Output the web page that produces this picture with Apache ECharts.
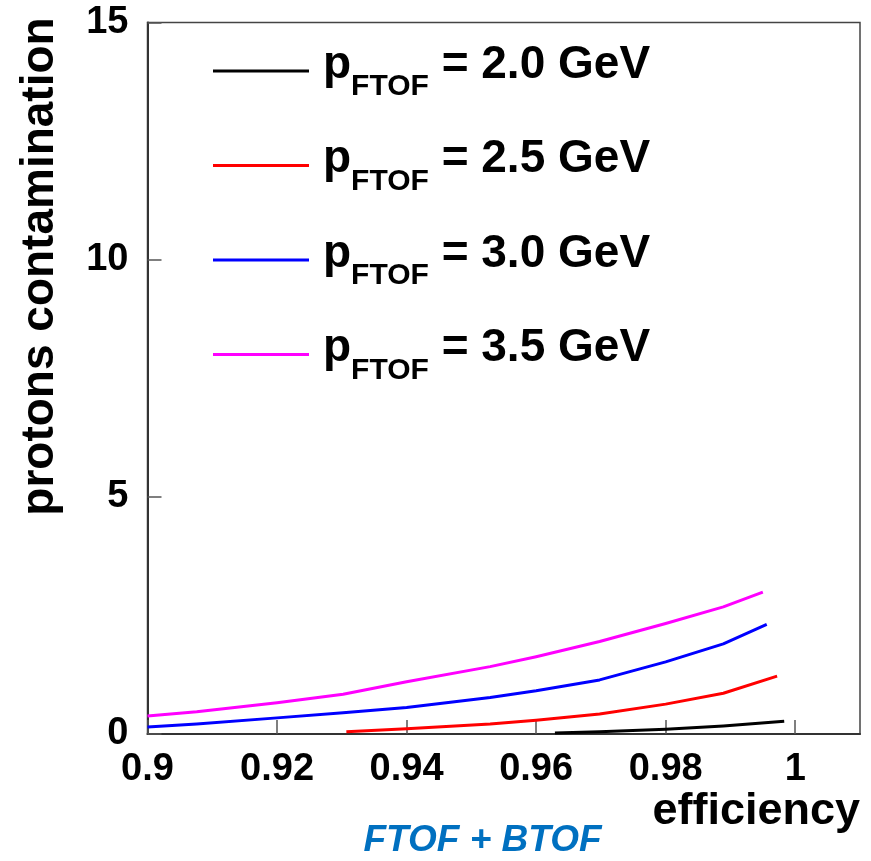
<!DOCTYPE html>
<html>
<head>
<meta charset="utf-8">
<script src="https://cdn.jsdelivr.net/npm/echarts@6/dist/echarts.min.js"></script>
<style>
  html, body { margin: 0; padding: 0; background: #fff; }
  #chart { width: 871px; height: 861px; }
</style>
</head>
<body>
<div id="chart"></div>
<script>
// Proton contamination versus pion efficiency for several FTOF momenta
const momenta = ['2.0', '2.5', '3.0', '3.5'];
const colors = ['#000000', '#ff0000', '#0000ff', '#ff00ff'];

const eff20 = [0.9629, 0.9698, 0.98, 0.9889, 0.9983];
const cont20 = [0.02, 0.05, 0.10, 0.17, 0.27];

const eff25 = [0.9307, 0.94, 0.9529, 0.96, 0.9698, 0.98, 0.9889, 0.9972];
const cont25 = [0.05, 0.11, 0.21, 0.29, 0.42, 0.63, 0.86, 1.22];

const eff30 = [0.9, 0.9076, 0.92, 0.9302, 0.94, 0.9529, 0.96, 0.9698, 0.98, 0.9889, 0.9956];
const cont30 = [0.15, 0.21, 0.34, 0.45, 0.56, 0.77, 0.91, 1.14, 1.52, 1.90, 2.31];

const eff35 = [0.9, 0.9076, 0.92, 0.9302, 0.94, 0.9529, 0.96, 0.9698, 0.98, 0.9889, 0.995];
const cont35 = [0.38, 0.47, 0.66, 0.84, 1.10, 1.42, 1.63, 1.95, 2.33, 2.68, 2.99];

const xTicks = { min: 0.9, max: 1.01, step: 0.02 };
const yTicks = { min: 0, max: 15, step: 5 };

const effs = [eff20, eff25, eff30, eff35];
const conts = [cont20, cont25, cont30, cont35];

const FONT = '"Liberation Sans", Arial, Helvetica, sans-serif';

const series = momenta.map((p, i) => ({
  name: p + ' GeV',
  type: 'line',
  data: effs[i].map((x, k) => [x, conts[i][k]]),
  showSymbol: false,
  smooth: false,
  lineStyle: { color: colors[i], width: 3, join: 'round', cap: 'butt' },
  itemStyle: { color: colors[i] },
  z: 3
}));

const chart = echarts.init(document.getElementById('chart'), null, { renderer: 'canvas' });

chart.setOption({
  animation: false,
  backgroundColor: '#ffffff',
  grid: {
    left: 147.5, right: 11, top: 22.5, bottom: 127,
    show: true, borderColor: '#444', borderWidth: 1.5, backgroundColor: 'transparent'
  },
  legend: {
    orient: 'vertical',
    left: 213,
    top: 42,
    padding: 0,
    itemGap: 34.5,
    itemWidth: 96,
    itemHeight: 3,
    icon: 'rect',
    selectedMode: false,
    data: series.map(s => s.name),
    formatter: name => '{p|p}{s|FTOF}{t| = ' + name + '}',
    textStyle: {
      padding: [0, 0, 12, 0],
      rich: {
        p: { fontFamily: FONT, fontWeight: 'bold', fontSize: 46, lineHeight: 46, color: '#000',
             verticalAlign: 'top', padding: [0, 0, 0, 9] },
        s: { fontFamily: FONT, fontWeight: 'bold', fontSize: 30, lineHeight: 30, color: '#000',
             verticalAlign: 'top', padding: [30, 0, 0, 0] },
        t: { fontFamily: FONT, fontWeight: 'bold', fontSize: 46, lineHeight: 46, color: '#000',
             verticalAlign: 'top' }
      }
    }
  },
  xAxis: {
    type: 'value',
    min: xTicks.min,
    max: xTicks.max,
    interval: xTicks.step,
    axisLine: { show: true, onZero: false, lineStyle: { color: '#333', width: 2 } },
    axisTick: { show: true, inside: true, length: 14, lineStyle: { color: '#555', width: 1.5 } },
    splitLine: { show: false },
    axisLabel: {
      margin: 17,
      fontFamily: FONT, fontWeight: 'bold', fontSize: 38, color: '#000',
      showMaxLabel: false,
      formatter: v => (v > 1.005 ? '' : String(+v.toFixed(2)))
    }
  },
  yAxis: {
    type: 'value',
    min: yTicks.min,
    max: yTicks.max,
    interval: yTicks.step,
    axisLine: { show: true, lineStyle: { color: '#333', width: 2 } },
    axisTick: { show: true, inside: true, length: 14, lineStyle: { color: '#555', width: 1.5 } },
    splitLine: { show: false },
    axisLabel: {
      margin: 19,
      fontFamily: FONT, fontWeight: 'bold', fontSize: 38, color: '#000'
    }
  },
  graphic: [
    {
      type: 'text',
      x: 40, y: 266.5,
      rotation: Math.PI / 2,
      style: {
        text: 'protons contamination',
        fontFamily: FONT, fontWeight: 'bold', fontSize: 46, fill: '#000',
        align: 'center', verticalAlign: 'middle'
      }
    },
    {
      type: 'text',
      x: 860, y: 812,
      style: {
        text: 'efficiency',
        fontFamily: FONT, fontWeight: 'bold', fontSize: 45, fill: '#000',
        align: 'right', verticalAlign: 'middle'
      }
    },
    {
      type: 'text',
      x: 482.5, y: 841,
      style: {
        text: 'FTOF + BTOF',
        fontFamily: FONT, fontWeight: 'bold', fontStyle: 'italic', fontSize: 37, fill: '#0070C0',
        align: 'center', verticalAlign: 'middle'
      }
    }
  ],
  series: series
});
</script>
</body>
</html>
